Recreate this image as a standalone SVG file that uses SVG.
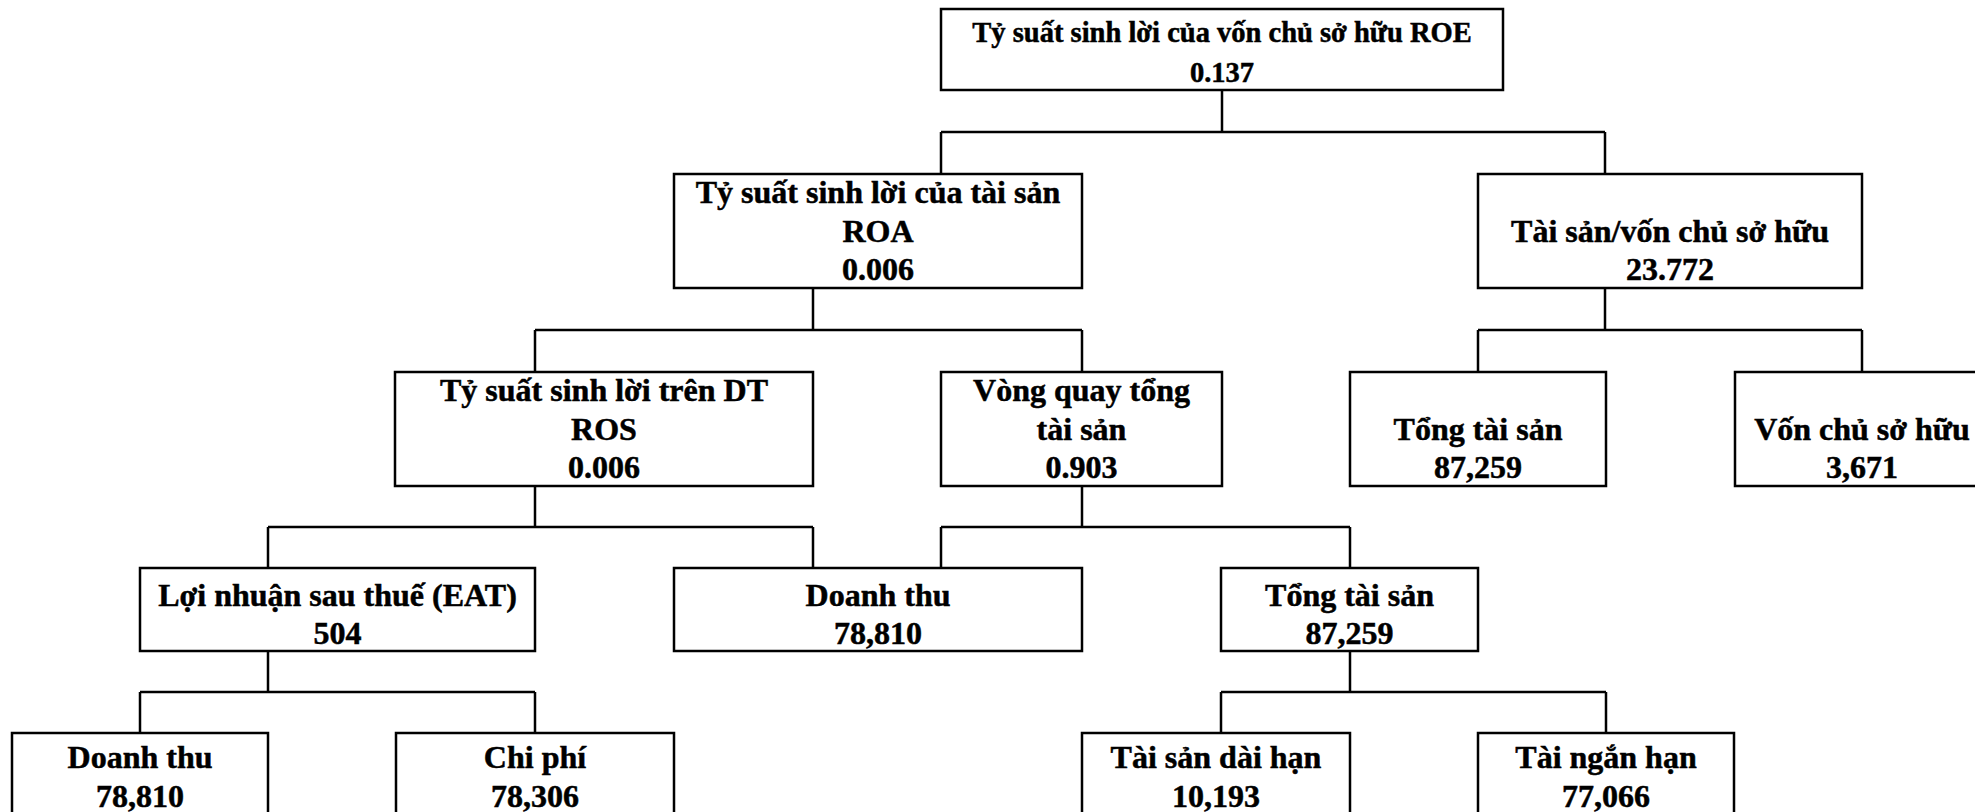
<svg xmlns="http://www.w3.org/2000/svg" width="1975" height="812" viewBox="0 0 1975 812">
<style>
.box{fill:#fff;stroke:#000;stroke-width:2.5}
.t{font-family:"Liberation Serif","Times New Roman",serif;font-weight:bold;font-size:32px;text-anchor:middle;fill:#000;stroke:#000;stroke-width:0.5}
.t29{font-size:28.5px}
.c{fill:none;stroke:#000;stroke-width:2.5}
</style>
<rect width="1975" height="812" fill="#fff"/>
<g id="connectors" class="c">
<path d="M1222 90V132M941 132H1605M941 132V174M1605 132V174"/>
<path d="M813 288V330M535 330H1082M535 330V372M1082 330V372"/>
<path d="M1605 288V330M1478 330H1862M1478 330V372M1862 330V372"/>
<path d="M535 486V527M268 527H813M268 527V568M813 527V568"/>
<path d="M1082 486V527M941 527H1350M941 527V568M1350 527V568"/>
<path d="M268 651V692M140 692H535M140 692V733M535 692V733"/>
<path d="M1350 651V692M1221 692H1606M1221 692V733M1606 692V733"/>
</g>
<g id="n_roe"><rect class="box" x="941" y="9" width="562" height="81"/>
<text class="t t29" x="1222" y="42">Tỷ suất sinh lời của vốn chủ sở hữu ROE</text>
<text class="t t29" x="1222" y="82">0.137</text></g>
<g id="n_roa"><rect class="box" x="674" y="174" width="408" height="114"/>
<text class="t" x="878" y="203">Tỷ suất sinh lời của tài sản</text>
<text class="t" x="878" y="242">ROA</text>
<text class="t" x="878" y="280">0.006</text></g>
<g id="n_tsv"><rect class="box" x="1478" y="174" width="384" height="114"/>
<text class="t" x="1670" y="242">Tài sản/vốn chủ sở hữu</text>
<text class="t" x="1670" y="280">23.772</text></g>
<g id="n_ros"><rect class="box" x="395" y="372" width="418" height="114"/>
<text class="t" x="604" y="401">Tỷ suất sinh lời trên DT</text>
<text class="t" x="604" y="440">ROS</text>
<text class="t" x="604" y="478">0.006</text></g>
<g id="n_vq"><rect class="box" x="941" y="372" width="281" height="114"/>
<text class="t" x="1081.5" y="401">Vòng quay tổng</text>
<text class="t" x="1081.5" y="440">tài sản</text>
<text class="t" x="1081.5" y="478">0.903</text></g>
<g id="n_tts1"><rect class="box" x="1350" y="372" width="256" height="114"/>
<text class="t" x="1478" y="440">Tổng tài sản</text>
<text class="t" x="1478" y="478">87,259</text></g>
<g id="n_vcsh"><rect class="box" x="1735" y="372" width="254" height="114"/>
<text class="t" x="1862" y="440">Vốn chủ sở hữu</text>
<text class="t" x="1862" y="478">3,671</text></g>
<g id="n_eat"><rect class="box" x="140" y="568" width="395" height="83"/>
<text class="t" x="337.5" y="606">Lợi nhuận sau thuế (EAT)</text>
<text class="t" x="337.5" y="644">504</text></g>
<g id="n_dt1"><rect class="box" x="674" y="568" width="408" height="83"/>
<text class="t" x="878" y="606">Doanh thu</text>
<text class="t" x="878" y="644">78,810</text></g>
<g id="n_tts2"><rect class="box" x="1221" y="568" width="257" height="83"/>
<text class="t" x="1349.5" y="606">Tổng tài sản</text>
<text class="t" x="1349.5" y="644">87,259</text></g>
<g id="n_dt2"><rect class="box" x="12" y="733" width="256" height="83"/>
<text class="t" x="140" y="768">Doanh thu</text>
<text class="t" x="140" y="807">78,810</text></g>
<g id="n_cp"><rect class="box" x="396" y="733" width="278" height="83"/>
<text class="t" x="535" y="768">Chi phí</text>
<text class="t" x="535" y="807">78,306</text></g>
<g id="n_tsdh"><rect class="box" x="1082" y="733" width="268" height="83"/>
<text class="t" x="1216" y="768">Tài sản dài hạn</text>
<text class="t" x="1216" y="807">10,193</text></g>
<g id="n_tnh"><rect class="box" x="1478" y="733" width="256" height="83"/>
<text class="t" x="1606" y="768">Tài ngắn hạn</text>
<text class="t" x="1606" y="807">77,066</text></g>
</svg>
